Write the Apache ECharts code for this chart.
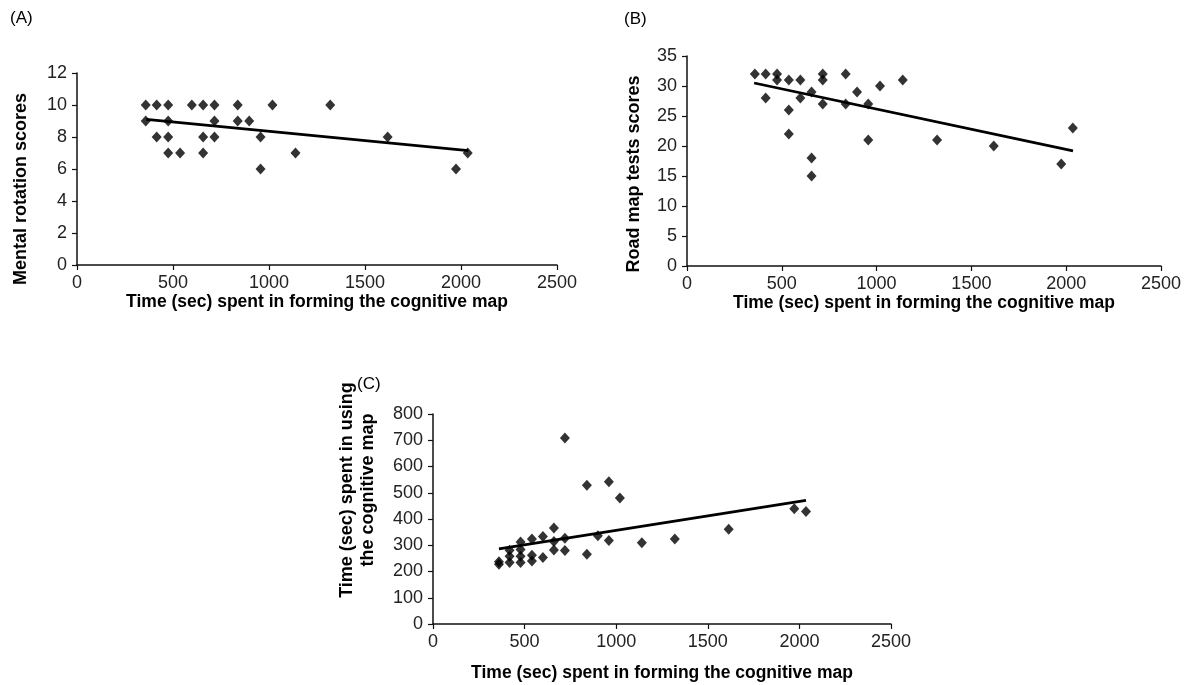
<!DOCTYPE html>
<html>
<head>
<meta charset="utf-8">
<script src="https://cdn.jsdelivr.net/npm/echarts@6/dist/echarts.min.js"></script>
<style>
html,body{margin:0;padding:0;background:#fff;}
#chart{width:1184px;height:685px;}
</style>
</head>
<body>
<div id="chart"></div>
<script>
// ---------- data ----------
const xTitle = 'Time (sec) spent in forming the cognitive map';
const panelLabels = ['(A)', '(B)', '(C)'];
const yTitles = ['Mental rotation scores', 'Road map tests scores', 'Time (sec) spent in using\nthe cognitive map'];

// Panel A: [time forming map, mental rotation score]
const pointsA = [
  [358,10],[415,10],[475,10],[598,10],[657,10],[716,10],[837,10],[1018,10],[1319,10],
  [358,9],[475,9],[716,9],[837,9],[897,9],
  [415,8],[475,8],[657,8],[716,8],[956,8],[1618,8],
  [475,7],[537,7],[657,7],[1138,7],[2035,7],
  [956,6],[1974,6]
];
const trendA = [[361, 9.1], [2038, 7.15]];

// Panel B: [time forming map, road map test score]
const pointsB = [
  [358,32],[415,32],[415,28],[475,32],[475,31],[537,31],[537,26],[537,22],
  [598,31],[598,28],[657,29],[657,18],[657,15],[716,32],[716,31],[716,27],
  [837,32],[837,27],[897,29],[956,27],[956,21],[1018,30],[1138,31],
  [1319,21],[1618,20],[1974,17],[2035,23]
];
const trendB = [[354, 30.5], [2036, 19.2]];

// Panel C: [time forming map, time using map]
const pointsC = [
  [360,237],[360,228],[418,234],[418,258],[418,281],
  [478,234],[478,258],[478,284],[478,312],
  [540,240],[540,262],[540,324],[600,253],[600,333],
  [660,282],[660,314],[660,366],[720,280],[720,327],[720,709],
  [840,266],[840,529],[900,336],[960,318],[960,542],[1020,480],
  [1140,310],[1320,324],[1614,361],[1972,439],[2036,429]
];
const trendC = [[360, 286], [2036, 471]];

const xTicks = {min: 0, max: 2500, interval: 500};
const yTicksA = {min: 0, max: 12, interval: 2};
const yTicksB = {min: 0, max: 35, interval: 5};
const yTicksC = {min: 0, max: 800, interval: 100};

// ---------- chart ----------
const FONT = '"Liberation Sans", Arial, sans-serif';
const chart = echarts.init(document.getElementById('chart'), null, {renderer: 'canvas'});

const grids = [
  {left: 77, top: 73, width: 480, height: 192},
  {left: 687, top: 56, width: 480, height: 210},
  {left: 433, top: 414, width: 458, height: 210}
];
const nameGaps = [23, 23, 40];

function plain(v) { return String(v); }

function xAxis(i) {
  return {
    type: 'value', gridIndex: i, min: xTicks.min, max: xTicks.max, interval: xTicks.interval,
    name: xTitle, nameLocation: 'middle', nameGap: nameGaps[i],
    nameTextStyle: {fontFamily: FONT, fontWeight: 'bold', fontSize: 17.5, color: '#000'},
    axisLine: {show: true, onZero: false, lineStyle: {color: '#111', width: 1.5}},
    axisTick: {show: true, length: 5, lineStyle: {color: '#111', width: 1.2}},
    axisLabel: {fontFamily: FONT, fontSize: 18, color: '#222', margin: 9, formatter: plain},
    splitLine: {show: false}
  };
}
function yAxis(i, t) {
  return {
    type: 'value', gridIndex: i, min: t.min, max: t.max, interval: t.interval,
    axisLine: {show: true, onZero: false, lineStyle: {color: '#111', width: 1.5}},
    axisTick: {show: true, length: 5, lineStyle: {color: '#111', width: 1.2}},
    axisLabel: {fontFamily: FONT, fontSize: 18, color: '#222', margin: 10, formatter: plain},
    splitLine: {show: false}
  };
}

function scatter(i, data) {
  return {
    type: 'scatter', xAxisIndex: i, yAxisIndex: i, data: data,
    symbol: 'diamond', symbolSize: [10, 11],
    itemStyle: {color: '#000'}, silent: true, z: 3
  };
}
function trend(i, data) {
  return {
    type: 'line', xAxisIndex: i, yAxisIndex: i, data: data,
    showSymbol: false, symbol: 'none',
    lineStyle: {color: '#000', width: 2.8}, silent: true, z: 2
  };
}

const textBase = {fontFamily: FONT, fill: '#000'};

chart.setOption({
  animation: false,
  backgroundColor: '#fff',
  grid: grids,
  xAxis: [xAxis(0), xAxis(1), xAxis(2)],
  yAxis: [yAxis(0, yTicksA), yAxis(1, yTicksB), yAxis(2, yTicksC)],
  series: [
    scatter(0, pointsA), trend(0, trendA),
    scatter(1, pointsB), trend(1, trendB),
    scatter(2, pointsC), trend(2, trendC)
  ],
  graphic: [
    {type: 'text', left: 10, top: 10, style: Object.assign({}, textBase, {text: panelLabels[0], fontSize: 17})},
    {type: 'text', left: 624, top: 11, style: Object.assign({}, textBase, {text: panelLabels[1], fontSize: 17})},
    {type: 'text', left: 357, top: 376, style: Object.assign({}, textBase, {text: panelLabels[2], fontSize: 17})},
    {type: 'text', x: 21, y: 189, rotation: Math.PI / 2,
      style: Object.assign({}, textBase, {text: yTitles[0], fontSize: 18, fontWeight: 'bold', align: 'center', verticalAlign: 'middle'})},
    {type: 'text', x: 634, y: 174, rotation: Math.PI / 2,
      style: Object.assign({}, textBase, {text: yTitles[1], fontSize: 18, fontWeight: 'bold', align: 'center', verticalAlign: 'middle'})},
    {type: 'text', x: 358, y: 490, rotation: Math.PI / 2,
      style: Object.assign({}, textBase, {text: yTitles[2], fontSize: 18, fontWeight: 'bold', align: 'center', verticalAlign: 'middle', lineHeight: 21})}
  ]
});
</script>
</body>
</html>
